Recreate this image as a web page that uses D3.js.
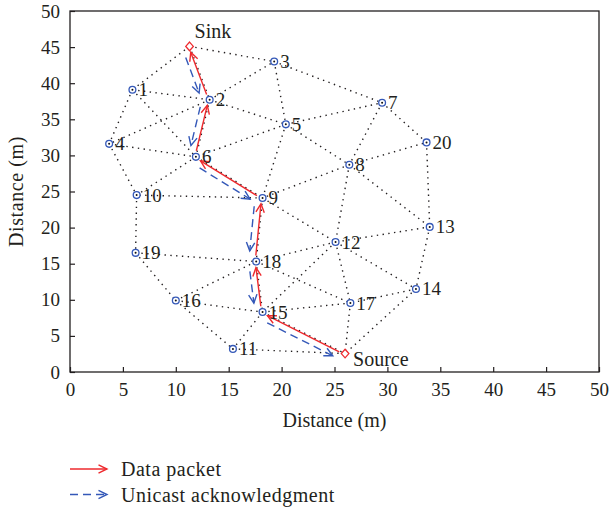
<!DOCTYPE html>
<html><head><meta charset="utf-8">
<script src="https://cdn.jsdelivr.net/npm/d3@7"></script>
<style>
body{margin:0;background:#fff;}
text{font-family:"Liberation Serif","Times New Roman",serif;fill:#231f20;}
</style></head>
<body><svg id="c" width="611" height="512"></svg>
<script>
// ---- data ----
const nodeIds = ["1","2","3","4","5","6","7","8","9","10","11","12","13","14","15","16","17","18","19","20"];
const nodeX = [5.9,13.2,19.3,3.7,20.4,11.9,29.5,26.4,18.2,6.3,15.4,25.1,34.0,32.7,18.2,10.0,26.5,17.6,6.2,33.7];
const nodeY = [39.1,37.7,43.0,31.6,34.3,29.8,37.3,28.7,24.1,24.5,3.2,18.0,20.1,11.5,8.3,9.9,9.55,15.3,16.5,31.8];
const specialIds = ["Sink","Source"];
const specialX = [11.3,26.0];
const specialY = [45.1,2.55];
const edges = [
 ["Sink","1"],["Sink","3"],["Sink","2"],["1","2"],["1","4"],["1","6"],["2","3"],["2","5"],["2","4"],["2","6"],
 ["3","5"],["3","7"],["4","6"],["4","10"],["5","6"],["5","7"],["5","8"],["5","9"],["6","9"],["6","10"],
 ["7","8"],["7","20"],["8","9"],["8","20"],["8","12"],["8","13"],["9","10"],["9","12"],["9","18"],["20","13"],
 ["13","12"],["13","14"],["12","18"],["12","14"],["12","17"],["12","15"],["10","19"],["19","18"],["19","16"],
 ["16","18"],["16","15"],["16","11"],["18","15"],["18","17"],["15","17"],["15","11"],["15","Source"],
 ["11","Source"],["17","Source"],["14","Source"],["14","17"]
];
const route = ["Source","15","18","9","6","2","Sink"];
const xTicks = [0,5,10,15,20,25,30,35,40,45,50];
const yTicks = [0,5,10,15,20,25,30,35,40,45,50];
const legendLabels = ["Data packet","Unicast acknowledgment"];

// ---- layout ----
const svg = d3.select("#c");
const L=70, R=599, T=11, B=372;
const x = d3.scaleLinear().domain([0,50]).range([L,R]);
const y = d3.scaleLinear().domain([0,50]).range([B,T]);
const RED="#ee2a2e", BLUE="#3458b8";

const pos = {};
nodeIds.forEach((id,i)=>pos[id]=[x(nodeX[i]),y(nodeY[i])]);
specialIds.forEach((id,i)=>pos[id]=[x(specialX[i]),y(specialY[i])]);

// axes
const xAxis = d3.axisBottom(x).tickValues(xTicks).tickSizeInner(-5).tickSizeOuter(0).tickPadding(10);
const yAxis = d3.axisLeft(y).tickValues(yTicks).tickSizeInner(-5).tickSizeOuter(0).tickPadding(10);
const gx = svg.append("g").attr("transform",`translate(0,${B})`).call(xAxis);
const gy = svg.append("g").attr("transform",`translate(${L},0)`).call(yAxis);
[gx,gy].forEach(g=>{
  g.select(".domain").remove();
  g.selectAll("line").attr("stroke","#231f20").attr("stroke-width",1.2);
  g.selectAll("text").style("font-family",'"Liberation Serif",serif').style("font-size","19px").attr("fill","#231f20");
});
gx.selectAll("text").attr("dy","0.75em");
svg.append("rect").attr("x",L).attr("y",T).attr("width",R-L).attr("height",B-T)
  .attr("fill","none").attr("stroke","#231f20").attr("stroke-width",1.3);

// edges
svg.append("g").selectAll("line").data(edges).join("line")
  .attr("x1",d=>pos[d[0]][0]).attr("y1",d=>pos[d[0]][1])
  .attr("x2",d=>pos[d[1]][0]).attr("y2",d=>pos[d[1]][1])
  .attr("stroke","#231f20").attr("stroke-width",1.4).attr("stroke-dasharray","1.4,4.4");

// arrows
function arrow(g,p0,p1,t0,t1,off,color,dash){
  const dx=p1[0]-p0[0], dy=p1[1]-p0[1], len=Math.hypot(dx,dy);
  const ux=dx/len, uy=dy/len, nx=-uy, ny=ux;
  const sx=p0[0]+ux*t0+nx*off, sy=p0[1]+uy*t0+ny*off;
  const ex=p1[0]-ux*t1+nx*off, ey=p1[1]-uy*t1+ny*off;
  g.append("line").attr("x1",sx).attr("y1",sy).attr("x2",ex).attr("y2",ey)
    .attr("stroke",color).attr("stroke-width",1.4).attr("stroke-dasharray",dash||null);
  const hl=8.5, hw=4.2;
  const a=[ex-ux*hl+nx*hw, ey-uy*hl+ny*hw], b=[ex-ux*hl-nx*hw, ey-uy*hl-ny*hw];
  g.append("path").attr("d",`M${a[0]},${a[1]}L${ex},${ey}L${b[0]},${b[1]}`)
    .attr("fill","none").attr("stroke",color).attr("stroke-width",1.4);
}
const ga = svg.append("g");
for(let i=0;i<route.length-1;i++){
  arrow(ga,pos[route[i]],pos[route[i+1]],6,6,-1,RED);
}
for(let i=route.length-1;i>0;i--){
  arrow(ga,pos[route[i]],pos[route[i-1]],9,10,7.5,BLUE,"8,5");
}

// nodes
const gn = svg.append("g");
nodeIds.forEach(id=>{
  const [px,py]=pos[id];
  gn.append("circle").attr("cx",px).attr("cy",py).attr("r",3.4).attr("fill","#fff").attr("stroke",BLUE).attr("stroke-width",1.3);
  gn.append("circle").attr("cx",px).attr("cy",py).attr("r",1).attr("fill","#111");
  gn.append("text").attr("x",px+6).attr("y",py+6.5).style("font-size","19px").text(id);
});
specialIds.forEach(id=>{
  const [px,py]=pos[id];
  gn.append("path").attr("d",`M${px},${py-4.3}L${px+3.8},${py}L${px},${py+4.3}L${px-3.8},${py}Z`)
    .attr("fill","#fff").attr("stroke",RED).attr("stroke-width",1.3);
});
gn.append("text").attr("x",pos["Sink"][0]+5).attr("y",pos["Sink"][1]-8).style("font-size","20px").text("Sink");
gn.append("text").attr("x",pos["Source"][0]+8).attr("y",pos["Source"][1]+12).style("font-size","20px").text("Source");

// axis labels
svg.append("text").attr("x",(L+R)/2).attr("y",427).attr("text-anchor","middle").style("font-size","20px").text("Distance (m)");
svg.append("text").attr("transform",`translate(23,${(T+B)/2}) rotate(-90)`).attr("text-anchor","middle").style("font-size","20px").style("letter-spacing","0.6px").text("Distance (m)");

// legend
const lg = svg.append("g");
arrow(lg,[70,469],[107,469],0,0,0,RED);
arrow(lg,[70,494.5],[107,494.5],0,0,0,BLUE,"8,5");
lg.append("text").attr("x",121).attr("y",476).style("font-size","20px").style("letter-spacing","0.5px").text(legendLabels[0]);
lg.append("text").attr("x",121).attr("y",501.5).style("font-size","20px").style("letter-spacing","0.5px").text(legendLabels[1]);
</script></body></html>
